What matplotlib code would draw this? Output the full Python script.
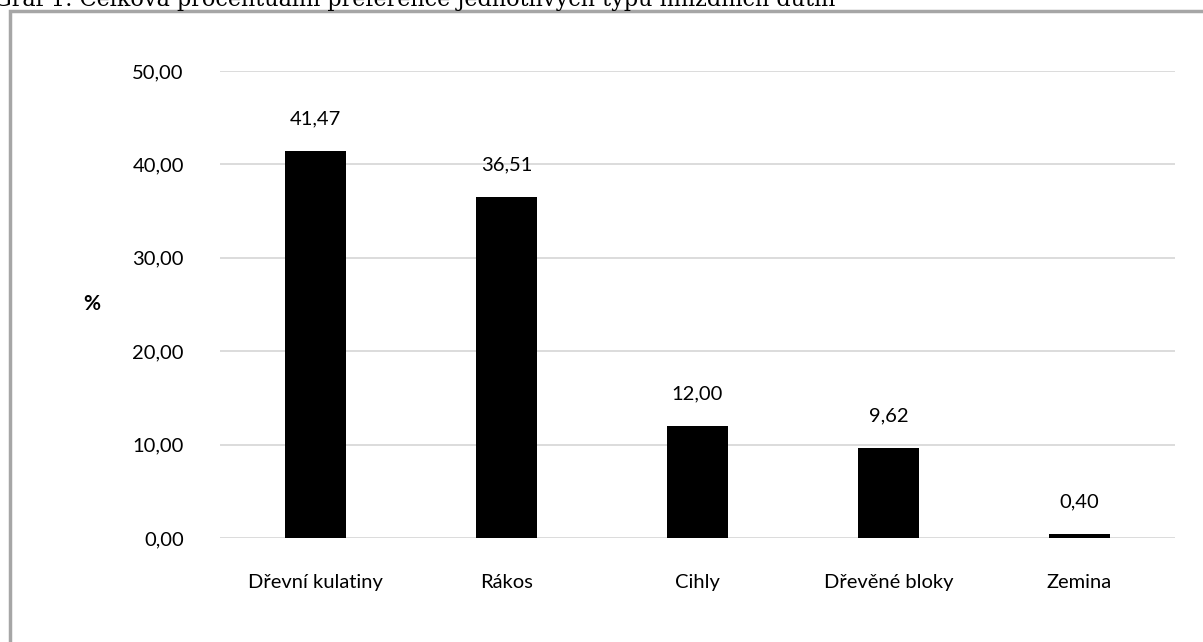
import matplotlib.pyplot as plt
from matplotlib.patches import Rectangle

# Chart data
CATEGORIES = ["Dřevní kulatiny", "Rákos", "Cihly", "Dřevěné bloky", "Zemina"]
VALUES = [41.47, 36.51, 12.00, 9.62, 0.40]
Y_TICKS = [0, 10, 20, 30, 40, 50]
TITLE = "Graf 1: Celková procentuální preference jednotlivých typů hnízdních dutin"

plt.rcParams["font.family"] = ["Lato", "DejaVu Sans"]


def fmt(v):
    return f"{v:.2f}".replace(".", ",")


def main():
    fig = plt.figure(figsize=(12.03, 6.42), dpi=100)

    # caption above the chart frame, cropped at the top like the source
    fig.text(-0.005, 1 - 6 / 642, TITLE, family="DejaVu Serif", fontsize=16,
             ha="left", va="baseline", color="black")

    # gray frame of the chart object
    fig.patches.append(
        Rectangle((10 / 1203, -0.1), 1.2, 1 - 10.5 / 642 + 0.1,
                  transform=fig.transFigure, facecolor="none",
                  edgecolor="#a6a6a6", linewidth=2.5)
    )

    ax = fig.add_axes([220 / 1203, 104 / 642, 955 / 1203, 467 / 642])
    x = range(len(CATEGORIES))
    bars = ax.bar(x, VALUES, width=0.315, color="black", zorder=3)
    for b, v in zip(bars, VALUES):
        ax.annotate(fmt(v), (b.get_x() + b.get_width() / 2, v),
                    xytext=(0, 17), textcoords="offset points",
                    ha="center", va="bottom", fontsize=14.5)

    ax.set_xlim(-0.5, len(CATEGORIES) - 0.5)
    ax.set_ylim(0, 50)
    ax.set_yticks(Y_TICKS)
    ax.set_yticklabels([fmt(t) for t in Y_TICKS], fontsize=14.5)
    ax.set_xticks(list(x))
    ax.set_xticklabels(CATEGORIES, fontsize=14.5)
    ax.tick_params(axis="y", length=0, pad=26)
    ax.tick_params(axis="x", length=0, pad=26)
    ax.grid(axis="y", color="#d9d9d9", linewidth=1.3, zorder=0)
    for s in ax.spines.values():
        s.set_visible(False)
    ax.set_ylabel("%", rotation=0, fontsize=15, fontweight="bold", va="center")
    ax.yaxis.set_label_coords(-128 / 955, 0.5)

    fig.savefig("out.png", dpi=100)


if __name__ == "__main__":
    main()
